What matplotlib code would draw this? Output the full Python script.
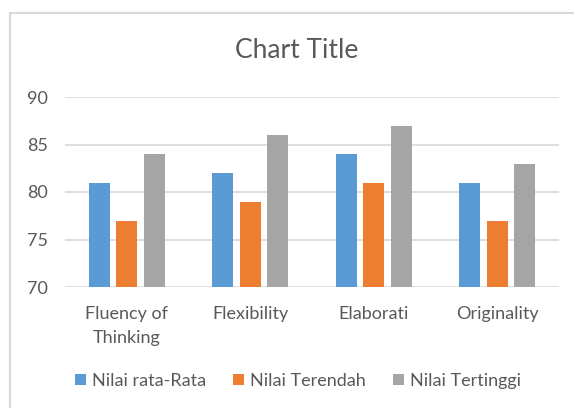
import numpy as np
import matplotlib.pyplot as plt
from matplotlib.patches import Rectangle

categories = ['Fluency of\nThinking', 'Flexibility', 'Elaborati', 'Originality']
series_names = ['Nilai rata-Rata', 'Nilai Terendah', 'Nilai Tertinggi']
rata_rata = [81, 82, 84, 81]
terendah = [77, 79, 81, 77]
tertinggi = [84, 86, 87, 83]
colors = ['#5B9BD5', '#ED7D31', '#A5A5A5']

plt.rcParams['font.family'] = ['Lato', 'DejaVu Sans']
text_color = '#595959'

fig = plt.figure(figsize=(5.74, 4.08), dpi=100)

# chart frame (cut off at right and bottom like the screenshot)
fig.patches.append(Rectangle((10 / 574, -0.1), 1.2, 1 - 13 / 408 + 0.1,
                             transform=fig.transFigure, fill=False,
                             edgecolor='#D9D9D9', linewidth=1.5))

ax = fig.add_axes([65 / 574, 1 - 287 / 408, (559 - 65) / 574, (287 - 97) / 408])

x = np.arange(len(categories))
width = 0.17
step = 0.222
for i, (vals, name) in enumerate(zip([rata_rata, terendah, tertinggi], series_names)):
    ax.bar(x + (i - 1) * step, vals, width, color=colors[i], label=name, zorder=3)

ax.set_ylim(70, 90)
ax.set_xlim(-0.5, 3.5)
ax.set_yticks([70, 75, 80, 85, 90])
ax.set_xticks(x)
ax.set_xticklabels(categories, fontsize=13, color=text_color, linespacing=1.55)
ax.tick_params(axis='y', labelsize=13, labelcolor=text_color, length=0, pad=12)
ax.tick_params(axis='x', length=0, pad=14)
ax.yaxis.grid(True, color='#D9D9D9', linewidth=1.2, zorder=0)
for s in ax.spines.values():
    s.set_visible(False)

fig.text(297 / 574, 1 - 51 / 408, 'Chart Title', ha='center', va='center',
         fontsize=19, color=text_color)

handles, labels = ax.get_legend_handles_labels()
fig.legend(handles, labels, loc='center', bbox_to_anchor=(298 / 574, 1 - 381 / 408),
           ncol=3, frameon=False, fontsize=13, labelcolor=text_color,
           handlelength=0.6, handleheight=0.6, handletextpad=0.35, columnspacing=1.5)

fig.savefig('out.png', dpi=100)
